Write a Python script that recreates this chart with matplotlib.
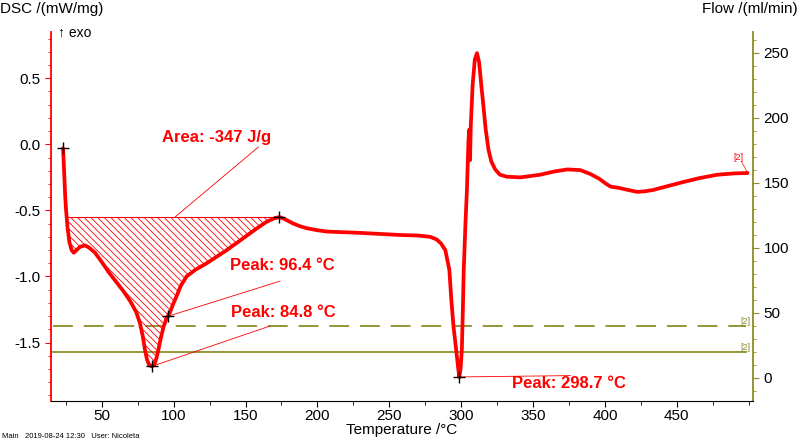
import matplotlib
matplotlib.use("Agg")
import matplotlib.pyplot as plt
from matplotlib.ticker import MultipleLocator
import numpy as np

plt.rcParams['font.family'] = ['Liberation Sans', 'DejaVu Sans']
plt.rcParams['hatch.linewidth'] = 0.6

# DSC trace
temp = np.array([23.1, 23.8, 24.5, 25.2, 26.2, 27.5, 29.0, 30.5, 32.5, 35.0, 38.4, 41.0,
                 45.3, 50.0, 55.0, 60.0, 65.0, 70.0, 74.0, 76.5, 78.5, 80.0, 81.5, 83.0,
                 84.8, 86.5, 88.0, 89.5, 91.0, 93.0, 95.0, 97.5, 100.0, 102.0, 105.0,
                 109.0, 115.0, 123.0, 130.0, 137.0, 144.0, 151.0, 158.0, 164.8, 170.0,
                 173.6, 178.0, 183.3, 188.0, 192.7, 200.0, 206.6, 229.7, 257.6, 270.0,
                 278.5, 283.0, 286.0, 289.0, 291.8, 293.2, 294.7, 296.5, 297.8, 298.7,
                 299.6, 300.5, 301.2, 301.8, 303.0, 304.0, 305.1, 305.6, 306.2, 306.7,
                 308.0, 309.5, 311.0, 312.5, 314.0, 315.6, 317.0, 319.0, 321.0, 323.7,
                 327.0, 331.8, 341.0, 348.0, 355.0, 365.0, 373.9, 382.9, 390.0, 396.0,
                 401.0, 404.0, 410.0, 416.0, 422.6, 428.0, 433.7, 444.0, 454.6, 466.0,
                 478.3, 490.0, 499.2])
dsc = np.array([-0.03, -0.20, -0.38, -0.50, -0.63, -0.74, -0.80, -0.82, -0.80, -0.775,
                -0.765, -0.78, -0.82, -0.89, -0.97, -1.04, -1.11, -1.19, -1.27, -1.35,
                -1.45, -1.55, -1.63, -1.67, -1.68, -1.67, -1.62, -1.55, -1.47, -1.38,
                -1.32, -1.27, -1.20, -1.15, -1.07, -1.00, -0.95, -0.90, -0.85, -0.80,
                -0.745, -0.69, -0.635, -0.585, -0.56, -0.55, -0.57, -0.60, -0.62, -0.635,
                -0.65, -0.66, -0.67, -0.686, -0.69, -0.70, -0.72, -0.75, -0.80, -0.95,
                -1.18, -1.38, -1.55, -1.68, -1.76, -1.70, -1.55, -1.25, -0.95, -0.60,
                -0.35, 0.03, 0.11, -0.12, 0.14, 0.45, 0.64, 0.69, 0.62, 0.45, 0.28, 0.12,
                -0.04, -0.13, -0.19, -0.23, -0.245, -0.25, -0.24, -0.23, -0.205, -0.19,
                -0.195, -0.225, -0.26, -0.30, -0.32, -0.33, -0.345, -0.36, -0.355, -0.345,
                -0.315, -0.285, -0.255, -0.23, -0.22, -0.217])

# evaluation marks
peak_temps = [84.8, 96.4, 298.7]
peak_vals = [-1.68, -1.30, -1.76]
peak_labels = ['Peak: 84.8 °C', 'Peak: 96.4 °C', 'Peak: 298.7 °C']
area_start = (23.1, -0.03)
baseline_t = [25.5, 173.6]
baseline_val = -0.55
area_label = 'Area: -347 J/g'

# flow lines (right axis)
flow_dashed = 40
flow_solid = 20

red = '#ff0000'
olive = '#8c8c28'

fig = plt.figure(figsize=(8, 4.42), dpi=100)
ax = fig.add_axes([0.0634, 0.0928, 0.8778, 0.8348])
ax2 = ax.twinx()

ax.set_xlim(14.5, 503)
ax.set_ylim(-1.942, 0.85)
ax2.set_ylim(-17.7, 266)

ax2.axhline(flow_dashed, xmin=0.003, xmax=0.99, color=olive, lw=1.3, dashes=(11, 6))
ax2.axhline(flow_solid, xmin=0.003, xmax=0.99, color=olive, lw=1.3)

# DSC axes drawn over the flow axes
ax.set_zorder(ax2.get_zorder() + 1)
ax.patch.set_visible(False)

ax.fill_between(temp, dsc, baseline_val,
                where=(temp >= baseline_t[0]) & (temp <= baseline_t[1]) & (dsc <= baseline_val),
                interpolate=True, facecolor='none', edgecolor=red, hatch='\\\\\\\\\\', linewidth=0)
ax.plot(baseline_t, [baseline_val, baseline_val], color=red, lw=0.8)
ax.plot(temp, dsc, color=red, lw=2.7, solid_joinstyle='round', solid_capstyle='round')

mk = dict(marker='+', color='black', ms=9, mew=1.0, ls='none', zorder=5)
ax.plot([area_start[0]], [area_start[1]], **mk)
ax.plot([baseline_t[1]], [baseline_val], **mk)
ax.plot(peak_temps, peak_vals, **mk)

bold = dict(color=red, fontsize=12, fontweight='bold', ha='center', va='center')
ax.plot([101, 159], [baseline_val, -0.02], color=red, lw=0.6)
ax.text(130, 0.055, area_label, **bold)

ax.plot([peak_temps[1], 174], [peak_vals[1], -1.035], color=red, lw=0.6)
ax.text(175.5, -0.915, peak_labels[1], **bold)
ax.plot([peak_temps[0], 167], [peak_vals[0], -1.375], color=red, lw=0.6)
ax.text(176, -1.27, peak_labels[0], **bold)
ax.plot([peak_temps[2], 376], [peak_vals[2], -1.75], color=red, lw=0.6)
ax.text(375, -1.81, peak_labels[2], **bold)

ax.text(493, -0.12, '[2]', color=red, fontsize=6.5, ha='center')
ax.plot([495, 499], [-0.13, -0.21], color=red, lw=0.5)
ax2.text(498, flow_dashed + 1.5, '[2]', color=olive, fontsize=6.5, ha='center')
ax2.text(498, flow_solid + 1.5, '[2]', color=olive, fontsize=6.5, ha='center')

ax.xaxis.set_major_locator(MultipleLocator(50))
ax.xaxis.set_minor_locator(MultipleLocator(25))
ax.yaxis.set_major_locator(MultipleLocator(0.5))
ax.yaxis.set_minor_locator(MultipleLocator(0.1))
ax2.yaxis.set_major_locator(MultipleLocator(50))
ax2.yaxis.set_minor_locator(MultipleLocator(10))
ax.set_xticks([50, 100, 150, 200, 250, 300, 350, 400, 450])

for a in (ax, ax2):
    a.spines['top'].set_visible(False)
ax.spines['right'].set_visible(False)
ax.spines['left'].set_color(red)
ax2.spines['left'].set_visible(False)
ax2.spines['bottom'].set_visible(False)
ax2.spines['right'].set_color(olive)
ax2.spines['right'].set_linewidth(1.3)
ax.spines['left'].set_linewidth(1.3)

ax.tick_params(axis='x', which='major', length=4, labelsize=11, pad=2)
ax.tick_params(axis='x', which='minor', length=3)
ax.tick_params(axis='y', which='both', colors=red, labelcolor='black', labelsize=11)
ax.tick_params(axis='y', which='major', length=4)
ax.tick_params(axis='y', which='minor', length=2.5)
ax2.tick_params(axis='y', which='both', colors=olive, labelcolor='black', labelsize=11)
ax2.tick_params(axis='y', which='major', length=4)
ax2.tick_params(axis='y', which='minor', length=2.5)
ax.set_yticklabels([f'{v:.1f}' for v in ax.get_yticks()])

ax.set_xlabel('Temperature /°C', fontsize=11, labelpad=0)
fig.text(0.0, 0.995, 'DSC /(mW/mg)', fontsize=11, ha='left', va='top')
fig.text(0.997, 0.995, 'Flow /(ml/min)', fontsize=11, ha='right', va='top')
fig.text(0.072, 0.927, '↑ exo', fontsize=10, ha='left', va='center')
fig.text(0.003, 0.005, 'Main   2019-08-24 12:30   User: Nicoleta', fontsize=5.5,
         ha='left', va='bottom')

fig.savefig('out.png', dpi=100)
